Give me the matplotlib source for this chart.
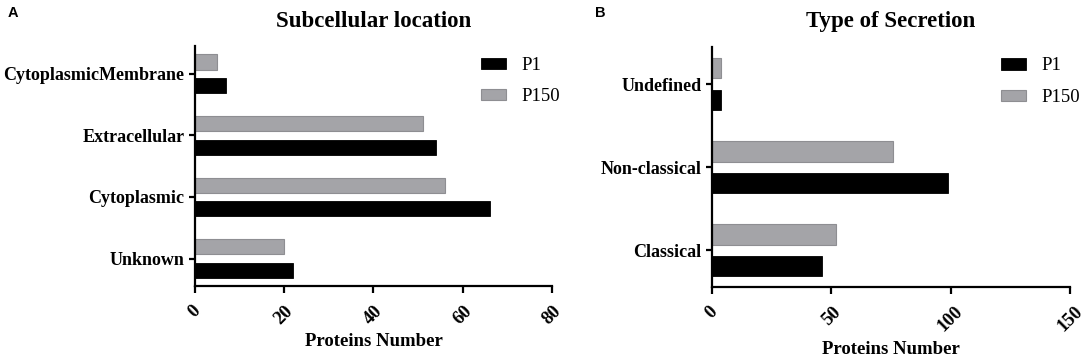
import matplotlib
matplotlib.use("Agg")
import matplotlib.pyplot as plt
import numpy as np

# ---- data ----
loc_categories = ["Unknown", "Cytoplasmic", "Extracellular", "CytoplasmicMembrane"]
loc_p1 = [22, 66, 54, 7]
loc_p150 = [20, 56, 51, 5]
loc_xticks = [0, 20, 40, 60, 80]

sec_categories = ["Classical", "Non-classical", "Undefined"]
sec_p1 = [46, 99, 4]
sec_p150 = [52, 76, 4]
sec_xticks = [0, 50, 100, 150]

series_names = ["P1", "P150"]

# ---- style ----
SERIF = "Liberation Serif"
C_P1 = "#000000"
C_P150 = "#a4a4a8"
E_P150 = "#8e8e92"
BAR_H = 0.245
OFF = 0.19

fig = plt.figure(figsize=(10.84, 3.6), dpi=100)
axA = fig.add_axes([0.1796, 0.2064, 0.3299, 0.6658])
axB = fig.add_axes([0.6566, 0.2036, 0.3305, 0.6667])


def draw(ax, cats, p1, p150, xticks, title, leg_x):
    y = np.arange(len(cats))
    ax.barh(y - OFF, p1, height=BAR_H, color=C_P1, edgecolor=C_P1, linewidth=0.6,
            label=series_names[0])
    ax.barh(y + OFF, p150, height=BAR_H, color=C_P150, edgecolor=E_P150, linewidth=0.8,
            label=series_names[1])
    ax.set_ylim(-0.44, len(cats) - 1 + 0.45)
    ax.set_xlim(xticks[0], xticks[-1])
    ax.set_yticks(y)
    ax.set_yticklabels(cats, fontfamily=SERIF, fontweight="bold", fontsize=13)
    ax.set_xticks(xticks)
    ax.set_xticklabels([str(t) for t in xticks], fontfamily=SERIF, fontweight="bold",
                       fontsize=13.5, rotation=45, ha="center", va="top")
    for s in ["top", "right"]:
        ax.spines[s].set_visible(False)
    for s in ["left", "bottom"]:
        ax.spines[s].set_linewidth(1.6)
    ax.tick_params(axis="y", length=4.5, width=1.6, pad=3)
    ax.tick_params(axis="x", length=5, width=1.6, pad=7)
    ax.set_xlabel("Proteins Number", fontfamily=SERIF, fontweight="bold", fontsize=13.5,
                  labelpad=4)
    ax.set_title(title, fontfamily=SERIF, fontweight="bold", fontsize=16.5, pad=14)
    ax.legend(loc="upper left", bbox_to_anchor=(leg_x, 0.955), frameon=False,
              prop={"family": SERIF, "size": 13.5}, handlelength=1.35,
              handleheight=0.55, handletextpad=0.8, labelspacing=0.78,
              borderpad=0, borderaxespad=0)


draw(axA, loc_categories, loc_p1, loc_p150, loc_xticks, "Subcellular location", 0.801)
draw(axB, sec_categories, sec_p1, sec_p150, sec_xticks, "Type of Secretion", 0.807)

fig.text(0.007, 0.982, "A", fontfamily="Liberation Sans", fontweight="bold",
         fontsize=10.5, va="top", ha="left")
fig.text(0.549, 0.982, "B", fontfamily="Liberation Sans", fontweight="bold",
         fontsize=10.5, va="top", ha="left")

fig.savefig("out.png", dpi=100)
